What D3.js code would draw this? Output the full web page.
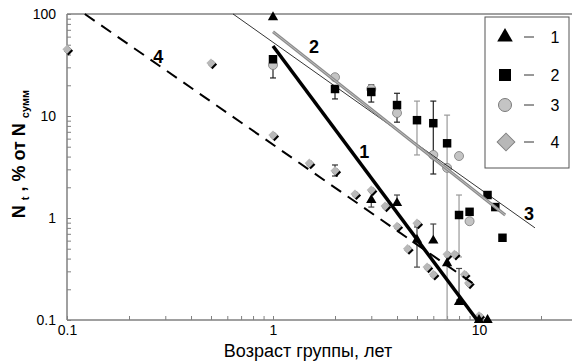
<!DOCTYPE html>
<html>
<head>
<meta charset="utf-8">
<script src="https://cdn.jsdelivr.net/npm/d3@7"></script>
<style>
  body { margin: 0; background: #fff; }
  svg { display: block; font-family: "Liberation Sans", Arial, sans-serif; }
</style>
</head>
<body>
<svg id="chart" width="572" height="363"></svg>
<script>
// series 1 - triangles
var s1_x = [1, 3, 4, 5, 6, 7, 8, 10, 11];
var s1_y = [93, 1.5, 1.4, 0.61, 0.6, 0.36, 0.15, 0.1, 0.1];
// series 2 - squares
var s2_x = [1, 2, 3, 4, 5, 6, 7, 8, 9, 11, 12, 13];
var s2_y = [36, 18.4, 17.2, 12.8, 9.1, 8.5, 5.4, 1.07, 1.15, 1.68, 1.28, 0.64];
// series 3 - circles
var s3_x = [1, 2, 3, 4, 6, 7, 8, 9];
var s3_y = [31.6, 24, 18.4, 10.7, 4.15, 3.1, 4.05, 0.93];
// series 4 - diamonds
var s4_x = [0.1, 0.5, 1, 1.5, 2, 2.5, 3, 3.5, 4, 4.5, 5, 5.6, 6, 7, 7.6, 8.5, 8.9, 10];
var s4_y = [45, 33, 6.5, 3.45, 2.9, 1.72, 1.88, 1.31, 0.83, 0.5, 0.89, 0.33, 0.28, 0.44, 0.44, 0.28, 0.23, 0.11];

// error bars: x, low, high, series
var err_x = [1, 2, 3, 4, 6, 5, 7, 8, 3, 4, 5, 6, 8, 2];
var err_lo = [23.6, 14.7, 13.7, 8.7, 2.7, 4.15, 0.1, 0.415, 1.28, 1.4, 0.33, 0.6, 0.157, 2.58];
var err_hi = [36, 18.4, 20.2, 16.7, 14, 14, 10.2, 1.68, 1.5, 1.68, 0.816, 0.873, 0.32, 3.31];
var err_s = [2, 2, 2, 2, 2, 3, 3, 3, 1, 1, 1, 1, 1, 4];

// fitted lines (endpoints)
var fit1 = [[1, 48.6], [9.78, 0.1]];
var fit2 = [[1, 67], [13.4, 1.07]];
var fit3 = [[0.64, 100], [18.7, 0.8]];
var fit4 = [[0.122, 100], [9.6, 0.22]];

var fitLabels = ['1', '2', '3', '4'];
var fitLabelPos = [[2.77, 3.9], [1.58, 41.7], [17.5, 0.96], [0.277, 33]];

var xMajor = [0.1, 1, 10];
var yMajor = [0.1, 1, 10, 100];
var legendLabels = ['1', '2', '3', '4'];

var svg = d3.select('#chart');
var W = 572;

var x = d3.scaleLog().domain([0.1, 10]).range([67, 479]);
var y = d3.scaleLog().domain([0.1, 100]).range([320, 14]);

function minorTicks(lo, hi) {
  var t = [];
  for (var d = lo; d < hi; d *= 10) {
    for (var k = 1; k < 10; k++) t.push(d * k);
  }
  return t;
}

var xTicks = minorTicks(0.1, 100).filter((v) => x(v) <= W);
var yTicks = minorTicks(0.1, 100).concat([100]);

// axes
var xAxis = d3.axisBottom(x)
  .tickValues(xTicks)
  .tickSizeInner(-4)
  .tickSizeOuter(0)
  .tickPadding(5)
  .tickFormat((d) => (xMajor.some((m) => Math.abs(m - d) < 1e-9) ? d3.format('')(d) : ''));

var gx = svg.append('g').attr('transform', 'translate(0,320)').call(xAxis);
gx.select('.domain').remove();
gx.selectAll('line').attr('stroke', '#808080');
gx.selectAll('text').attr('font-size', 14).attr('fill', '#000');

var yAxis = d3.axisLeft(y)
  .tickValues(yTicks)
  .tickSizeInner(-4)
  .tickSizeOuter(0)
  .tickPadding(11)
  .tickFormat((d) => (yMajor.some((m) => Math.abs(m - d) < 1e-9) ? d3.format('')(d) : ''));

var gy = svg.append('g').attr('transform', 'translate(67,0)').call(yAxis);
gy.select('.domain').remove();
gy.selectAll('line').attr('stroke', '#808080');
gy.selectAll('text').attr('font-size', 14).attr('fill', '#000');

// frame lines
svg.append('line').attr('x1', 67).attr('x2', W).attr('y1', 320).attr('y2', 320)
  .attr('stroke', '#808080').attr('stroke-width', 1.5);
svg.append('line').attr('x1', 67).attr('x2', 67).attr('y1', 14).attr('y2', 320)
  .attr('stroke', '#808080').attr('stroke-width', 1.5);
svg.append('line').attr('x1', 67).attr('x2', W).attr('y1', 14).attr('y2', 14)
  .attr('stroke', '#808080').attr('stroke-width', 1.5);

// error bars
var errColor = { 1: '#444', 2: '#222', 3: '#999', 4: '#333' };
var eb = svg.append('g');
err_x.forEach((ex, i) => {
  var c = errColor[err_s[i]];
  var px = x(ex);
  eb.append('line').attr('x1', px).attr('x2', px)
    .attr('y1', y(err_lo[i])).attr('y2', y(err_hi[i]))
    .attr('stroke', c).attr('stroke-width', 1.2);
  [err_lo[i], err_hi[i]].forEach((v) => {
    eb.append('line').attr('x1', px - 3).attr('x2', px + 3)
      .attr('y1', y(v)).attr('y2', y(v))
      .attr('stroke', c).attr('stroke-width', 1.2);
  });
});

// markers
var tri = d3.symbol().type(d3.symbolTriangle);
var sq = d3.symbol().type(d3.symbolSquare);

function drawDiamond(g, cx, cy, side, shadow) {
  if (shadow) {
    g.append('path').attr('d', sq.size(side * side)())
      .attr('transform', `translate(${cx + 1.5},${cy + 1.5}) rotate(45)`)
      .attr('fill', '#000');
  }
  g.append('path').attr('d', sq.size(side * side)())
    .attr('transform', `translate(${cx},${cy}) rotate(45)`)
    .attr('fill', '#b8b8b8')
    .attr('stroke', shadow ? 'none' : '#808080');
}

var mk = svg.append('g');

s4_x.forEach((v, i) => drawDiamond(mk, x(v), y(s4_y[i]), 6.5, true));

s3_x.forEach((v, i) => {
  mk.append('circle').attr('cx', x(v)).attr('cy', y(s3_y[i])).attr('r', 4.5)
    .attr('fill', '#c4c4c4').attr('stroke', '#7a7a7a').attr('stroke-width', 0.8);
});

s2_x.forEach((v, i) => {
  mk.append('path').attr('d', sq.size(72)())
    .attr('transform', `translate(${x(v)},${y(s2_y[i])})`).attr('fill', '#000');
});

s1_x.forEach((v, i) => {
  mk.append('path').attr('d', tri.size(46)())
    .attr('transform', `translate(${x(v)},${y(s1_y[i])})`).attr('fill', '#000');
});

// fit lines
var line = d3.line().x((d) => x(d[0])).y((d) => y(d[1]));

svg.append('path').attr('d', line(fit3)).attr('fill', 'none')
  .attr('stroke', '#000').attr('stroke-width', 0.8);
svg.append('path').attr('d', line(fit2)).attr('fill', 'none')
  .attr('stroke', '#8c8c8c').attr('stroke-width', 3);
svg.append('path').attr('d', line(fit2)).attr('fill', 'none')
  .attr('stroke', '#c8c8c8').attr('stroke-width', 0.8);
svg.append('path').attr('d', line(fit4)).attr('fill', 'none')
  .attr('stroke', '#000').attr('stroke-width', 2).attr('stroke-dasharray', '12,8');
svg.append('path').attr('d', line(fit1)).attr('fill', 'none')
  .attr('stroke', '#000').attr('stroke-width', 3.5);

// line labels
fitLabels.forEach((t, i) => {
  svg.append('text').attr('x', x(fitLabelPos[i][0])).attr('y', y(fitLabelPos[i][1]))
    .attr('text-anchor', 'middle').attr('font-size', 18).attr('font-weight', 'bold')
    .text(t);
});

// legend
var lg = svg.append('g');
lg.append('rect').attr('x', 485).attr('y', 17).attr('width', 84).attr('height', 151)
  .attr('fill', '#fff').attr('stroke', '#555').attr('stroke-width', 1);
var legY = [37, 75, 105, 142];
legendLabels.forEach((t, i) => {
  var ly = legY[i];
  if (i === 0) lg.append('path').attr('d', tri.size(105)()).attr('transform', `translate(505,${ly})`).attr('fill', '#000');
  if (i === 1) lg.append('path').attr('d', sq.size(144)()).attr('transform', `translate(505,${ly})`).attr('fill', '#000');
  if (i === 2) lg.append('circle').attr('cx', 505).attr('cy', ly).attr('r', 6.5)
    .attr('fill', '#c4c4c4').attr('stroke', '#7a7a7a');
  if (i === 3) drawDiamond(lg, 506, ly, 12.5, false);
  lg.append('line').attr('x1', 524).attr('x2', 534).attr('y1', ly).attr('y2', ly)
    .attr('stroke', '#333').attr('stroke-width', 1);
  lg.append('text').attr('x', 555).attr('y', ly + 6).attr('text-anchor', 'middle')
    .attr('font-size', 16).text(t);
});

// axis titles
svg.append('text').attr('x', 308).attr('y', 357).attr('text-anchor', 'middle')
  .attr('font-size', 18).text('Возраст группы, лет');

var yt = svg.append('text').attr('transform', 'translate(25,154) rotate(-90)')
  .attr('text-anchor', 'middle').attr('font-size', 18).attr('font-weight', 'bold');
yt.append('tspan').text('N ');
yt.append('tspan').attr('font-size', 11).attr('dy', 4).text('t');
yt.append('tspan').attr('dy', -4).text(' , % от N ');
yt.append('tspan').attr('font-size', 11).attr('dy', 4).text('сумм');
</script>
</body>
</html>
